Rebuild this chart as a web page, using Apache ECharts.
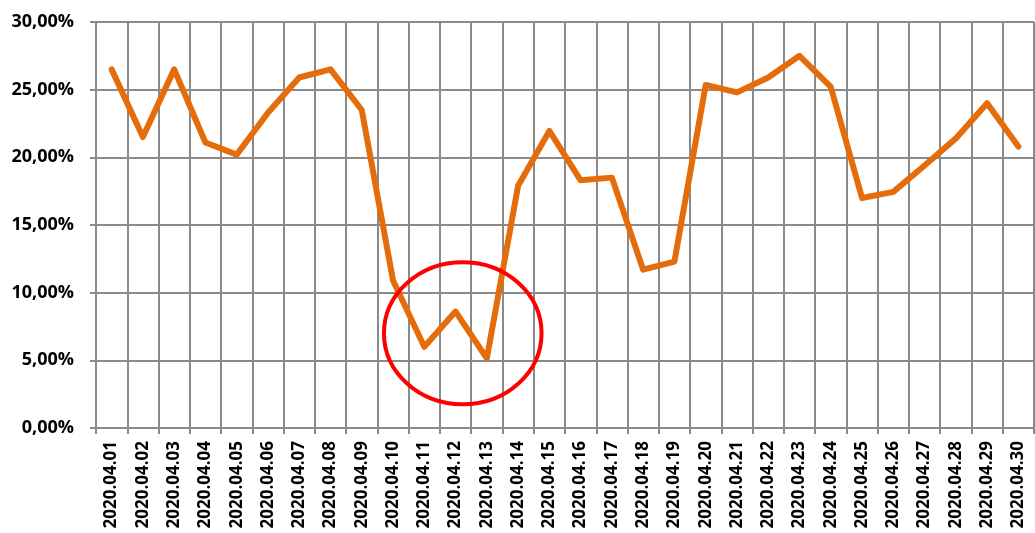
<!DOCTYPE html>
<html>
<head>
<meta charset="utf-8">
<script src="https://cdn.jsdelivr.net/npm/echarts@6/dist/echarts.min.js"></script>
<style>html,body{margin:0;padding:0;background:#fff}#c{width:1035px;height:533px}</style>
</head>
<body>
<div id="c"></div>
<script>
const categories = ['2020.04.01','2020.04.02','2020.04.03','2020.04.04','2020.04.05','2020.04.06','2020.04.07','2020.04.08','2020.04.09','2020.04.10','2020.04.11','2020.04.12','2020.04.13','2020.04.14','2020.04.15','2020.04.16','2020.04.17','2020.04.18','2020.04.19','2020.04.20','2020.04.21','2020.04.22','2020.04.23','2020.04.24','2020.04.25','2020.04.26','2020.04.27','2020.04.28','2020.04.29','2020.04.30'];
const values = [26.5,21.5,26.5,21.1,20.2,23.3,25.9,26.5,23.5,10.9,6.0,8.6,5.15,17.9,21.95,18.3,18.5,11.7,12.3,25.35,24.8,25.9,27.5,25.2,17.0,17.45,19.4,21.4,24.0,20.8];
const yMin = 0, yMax = 30, yStep = 5;
// annotation ellipse (data units): centre category (+ offset in categories), centre value, half-width in categories, half-height in value
const highlight = {category: '2020.04.12', catOffset: 0.23, value: 7.0, halfCats: 2.52, halfValue: 5.25};

const gridColor = '#8a8a8a';
const chart = echarts.init(document.getElementById('c'));
chart.setOption({
  animation: false,
  grid: {left: 96, top: 22, right: 1, bottom: 105, containLabel: false},
  xAxis: {
    type: 'category', data: categories, boundaryGap: true,
    axisLine: {show: true, lineStyle: {color: gridColor, width: 2}},
    axisTick: {show: true, length: 6, lineStyle: {color: gridColor, width: 2}},
    splitLine: {show: true, lineStyle: {color: gridColor, width: 2}},
    axisLabel: {rotate: 90, interval: 0, margin: 13, color: '#000', fontFamily: 'Open Sans', fontWeight: 'bold', fontSize: 17}
  },
  yAxis: {
    type: 'value', min: yMin, max: yMax, interval: yStep,
    axisLine: {show: true, lineStyle: {color: gridColor, width: 2}},
    axisTick: {show: true, length: 6, lineStyle: {color: gridColor, width: 2}},
    splitLine: {show: true, lineStyle: {color: gridColor, width: 2}},
    axisLabel: {margin: 22, color: '#000', fontFamily: 'Open Sans', fontWeight: 'bold', fontSize: 18,
      formatter: v => v.toFixed(2).replace('.', ',') + '%'}
  },
  series: [{
    type: 'line', data: values, symbol: 'none', smooth: false,
    lineStyle: {color: '#E46C0A', width: 6, cap: 'round', join: 'round'}
  }]
});
const idx = categories.indexOf(highlight.category);
const p0 = chart.convertToPixel({gridIndex: 0}, [idx, highlight.value]);
const p1 = chart.convertToPixel({gridIndex: 0}, [idx + 1, highlight.value + highlight.halfValue]);
const catW = p1[0] - p0[0];
chart.setOption({
  graphic: [{
    type: 'ellipse', z: 100,
    shape: {cx: p0[0] + catW * highlight.catOffset, cy: p0[1], rx: catW * highlight.halfCats, ry: p0[1] - p1[1]},
    style: {fill: 'none', stroke: '#FF0000', lineWidth: 4}
  }]
});
</script>
</body>
</html>
